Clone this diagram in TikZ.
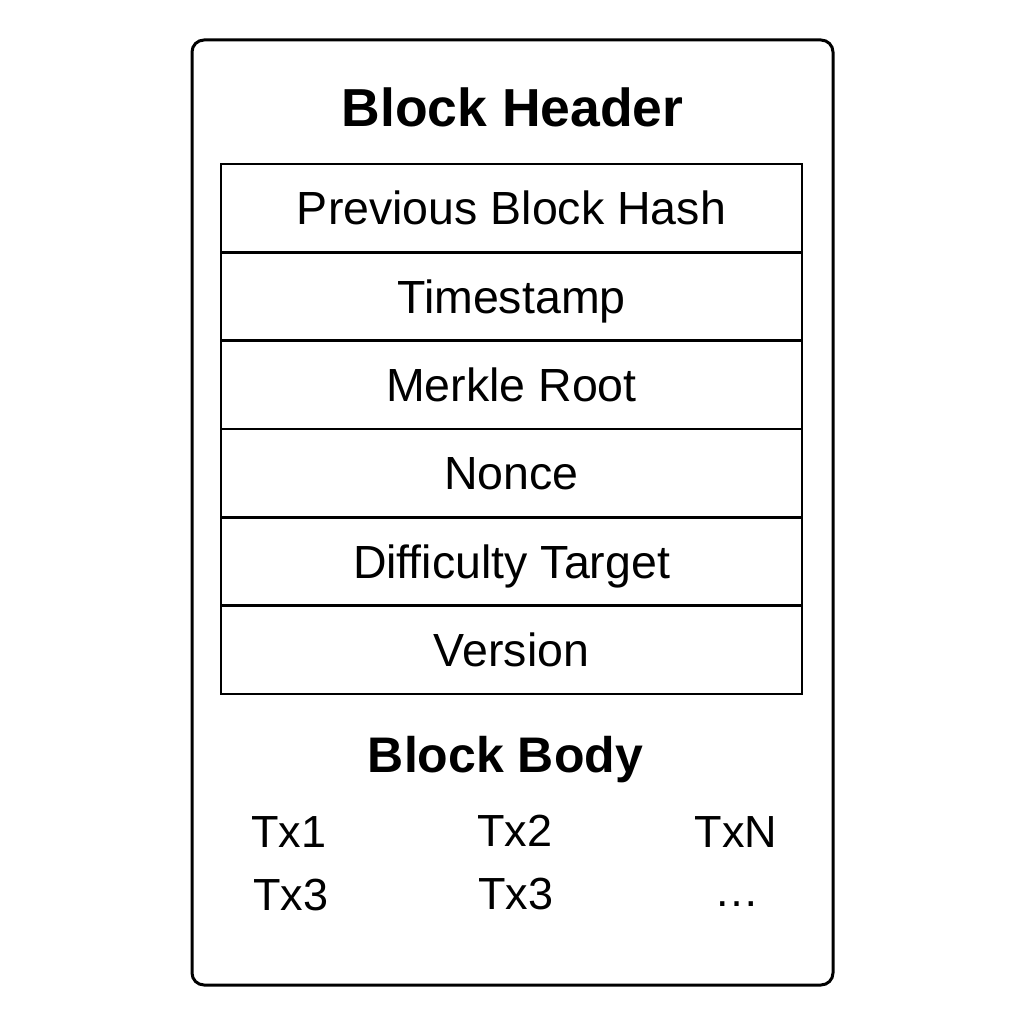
\documentclass[tikz,border=0pt]{standalone}
\usepackage{fontspec}
\setmainfont{Liberation Sans}
\begin{document}
\begin{tikzpicture}[x=1pt,y=-1pt,
  rowbox/.style={draw, line width=2.5pt, minimum width=581pt, minimum height=88.3pt,
    inner sep=0pt, text height=33pt, text depth=0pt, font=\fontsize{46.5}{50}\selectfont},
  titletext/.style={inner sep=0pt, text height=38.5pt, text depth=0pt,
    font=\fontsize{53.5}{60}\selectfont\bfseries},
  txtext/.style={inner sep=0pt, text height=33pt, text depth=0pt,
    font=\fontsize{45}{50}\selectfont}]
\useasboundingbox (0,0) rectangle (1024,1024);
\node[draw, line width=3pt, rounded corners=12pt, minimum width=641pt,
  minimum height=945pt, inner sep=0pt] (outer) at (512.5,512.5) {};
\node[titletext] (header) at (512.5,107) {Block Header};
\node[rowbox] (r1) at (511.5,208.2) {Previous Block Hash};
\node[rowbox] (r2) at (511.5,296.5) {Timestamp};
\node[rowbox] (r3) at (511.5,384.8) {Merkle Root};
\node[rowbox] (r4) at (511.5,473.2) {Nonce};
\node[rowbox] (r5) at (511.5,561.5) {Difficulty Target};
\node[rowbox] (r6) at (511.5,649.8) {Version};
\node[titletext, font=\fontsize{50}{56}\selectfont\bfseries, text height=36pt] (body) at (505.5,754) {Block Body};
\node[txtext] (t1) at (289,831) {Tx1};
\node[txtext] (t2) at (515,830) {Tx2};
\node[txtext] (tn) at (736,831) {TxN};
\node[txtext] (t3a) at (291,894) {Tx3};
\node[txtext] (t3b) at (516,893) {Tx3};
\node[inner sep=0pt, anchor=base, font=\fontsize{45}{50}\selectfont] (dots) at (737,906) {…};
\end{tikzpicture}
\end{document}
